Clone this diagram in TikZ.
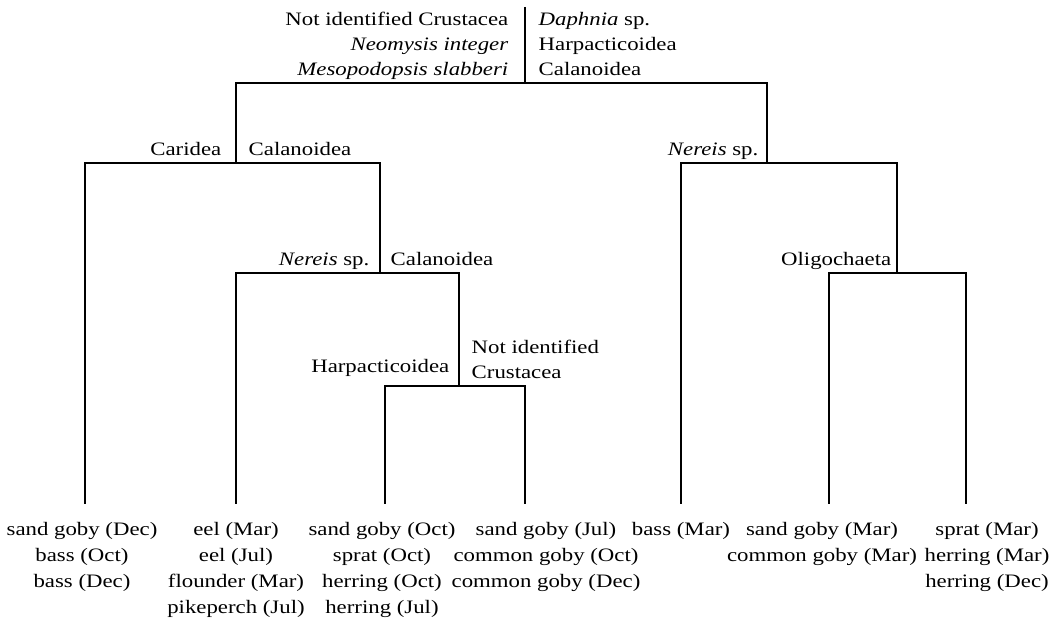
\documentclass[tikz,border=0pt]{standalone}
\usepackage{fontspec}
\setmainfont{Liberation Serif}[FakeStretch=1.2]
\usepackage{tikz}
\usetikzlibrary{positioning}

\tikzset{
  prey/.style={inner sep=0pt, font=\fontsize{9.5}{12.5}\selectfont, execute at end node=\strut},
  fish/.style={inner sep=0pt, align=center, font=\fontsize{9.5}{12.9}\selectfont, execute at begin node=\strut},
}

\begin{document}
\begin{tikzpicture}[x=0.5pt, y=-0.5pt, line width=0.7pt]
\useasboundingbox (0,0) rectangle (1057,619);
\coordinate (top) at (525,7);
\coordinate (root) at (525,83);
\coordinate (A) at (236,163);
\coordinate (B) at (767,163);
\coordinate (C) at (380,273);
\coordinate (D) at (459,386);
\coordinate (E) at (897,273);
\coordinate (L1) at (85,504);
\coordinate (L2) at (236,504);
\coordinate (L3) at (385,504);
\coordinate (L4) at (525,504);
\coordinate (L5) at (681,504);
\coordinate (L6) at (829,504);
\coordinate (L7) at (966,504);

\draw (top) -- (root);
\draw (A) |- (root) -| (B);
\draw (L1) |- (A) -| (C);
\draw (L2) |- (C) -| (D);
\draw (L3) |- (D) -| (L4);
\draw (L5) |- (B) -| (E);
\draw (L6) |- (E) -| (L7);

\node[prey, align=right, above left=-0.5pt and 8pt of root] (rootl) {Not identified Crustacea\\\textit{Neomysis integer}\\\textit{Mesopodopsis slabberi}};
\node[prey, align=left, above right=-0.5pt and 6.5pt of root] (rootr) {\textit{Daphnia} sp.\\Harpacticoidea\\Calanoidea};
\node[prey, above left=-0.5pt and 7pt of A] (Al) {Caridea};
\node[prey, above right=-0.5pt and 6pt of A] (Ar) {Calanoidea};
\node[prey, above left=-0.5pt and 4pt of B] (Bl) {\textit{Nereis} sp.};
\node[prey, above left=-0.5pt and 5pt of C] (Cl) {\textit{Nereis} sp.};
\node[prey, above right=-0.5pt and 5pt of C] (Cr) {Calanoidea};
\node[prey, above left=2.5pt and 4.5pt of D] (Dl) {Harpacticoidea};
\node[prey, align=left, above right=-0.5pt and 6pt of D] (Dr) {Not identified\\Crustacea};
\node[prey, above left=-0.5pt and 2.5pt of E] (El) {Oligochaeta};

\node[fish, below=9pt of L1, xshift=-1.5pt] (F1) {sand goby (Dec)\\bass (Oct)\\bass (Dec)};
\node[fish, below=9pt of L2] (F2) {eel (Mar)\\eel (Jul)\\flounder (Mar)\\pikeperch (Jul)};
\node[fish, below=9pt of L3, xshift=-1.5pt] (F3) {sand goby (Oct)\\sprat (Oct)\\herring (Oct)\\herring (Jul)};
\node[fish, below=9pt of L4, xshift=10.5pt] (F4) {sand goby (Jul)\\common goby (Oct)\\common goby (Dec)};
\node[fish, below=6.5pt of L5] (F5) {bass (Mar)};
\node[fish, below=9pt of L6, xshift=-3.5pt] (F6) {sand goby (Mar)\\common goby (Mar)};
\node[fish, below=9pt of L7, xshift=10.5pt] (F7) {sprat (Mar)\\herring (Mar)\\herring (Dec)};
\end{tikzpicture}
\end{document}
